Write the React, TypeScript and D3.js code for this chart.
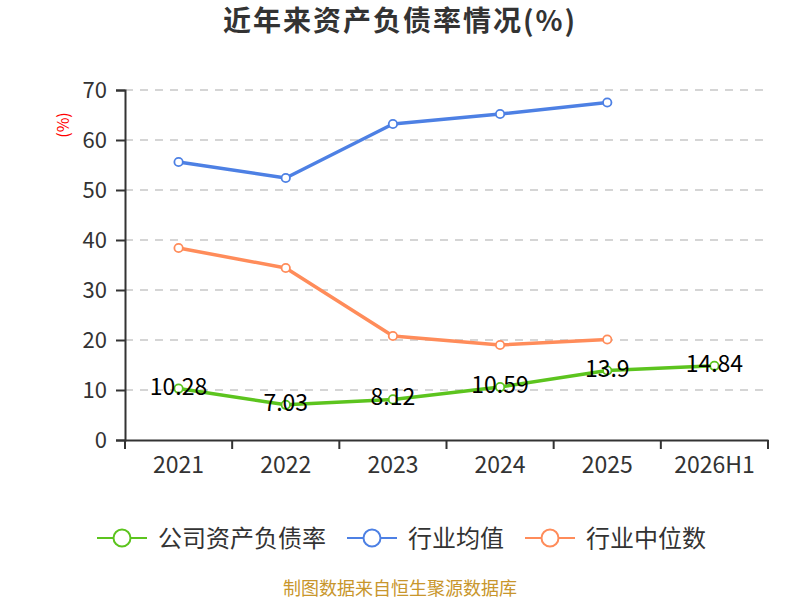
import React, { useRef, useEffect } from 'react';
import * as d3 from 'd3';

const categories = ['2021', '2022', '2023', '2024', '2025', '2026H1'];
const companyRatio = [10.28, 7.03, 8.12, 10.59, 13.9, 14.84];
const industryAvg = [55.6, 52.4, 63.2, 65.2, 67.5];
const industryMedian = [38.4, 34.4, 20.8, 19.0, 20.1];
const yTicks = [0, 10, 20, 30, 40, 50, 60, 70];

const seriesNames = ['公司资产负债率', '行业均值', '行业中位数'];
const colors = ['#5cc41e', '#4d80e4', '#ff8c5a'];

const FONT = '"Noto Sans CJK SC", "Noto Sans", sans-serif';

const App: React.FC = () => {
    const svgRef = useRef<SVGSVGElement | null>(null);

    useEffect(() => {
        if (!svgRef.current) return;

        const width = 800;
        const height = 600;
        const margin = { top: 90, right: 32, bottom: 160, left: 125 };

        const xScale = d3
            .scaleBand()
            .domain(categories)
            .range([margin.left, width - margin.right]);

        const yScale = d3
            .scaleLinear()
            .domain([0, 70])
            .range([height - margin.bottom, margin.top]);

        const svg = d3.select(svgRef.current);
        svg.selectAll('*').remove();

        // Title
        svg.append('text')
            .attr('x', width / 2)
            .attr('y', 31)
            .attr('text-anchor', 'middle')
            .attr('font-family', FONT)
            .attr('font-size', 28)
            .attr('font-weight', 'bold')
            .attr('letter-spacing', 2)
            .attr('fill', '#333')
            .text('近年来资产负债率情况(%)');

        // Grid lines
        svg.append('g')
            .selectAll('line')
            .data(yTicks.filter(d => d > 0))
            .join('line')
            .attr('x1', margin.left)
            .attr('x2', width - margin.right)
            .attr('y1', d => yScale(d))
            .attr('y2', d => yScale(d))
            .attr('stroke', '#c8c8c8')
            .attr('stroke-width', 1.5)
            .attr('stroke-dasharray', '8,7');

        // Y axis
        const yAxis = svg.append('g')
            .attr('transform', `translate(${margin.left},0)`)
            .call(d3.axisLeft(yScale).tickValues(yTicks).tickSize(9).tickPadding(9));
        yAxis.select('.domain').attr('stroke', '#333').attr('stroke-width', 2);
        yAxis.selectAll('.tick line').attr('stroke', '#333').attr('stroke-width', 2);
        yAxis.selectAll('.tick text')
            .attr('font-family', FONT)
            .attr('font-size', 22)
            .attr('fill', '#333');

        // X axis
        const xAxis = svg.append('g')
            .attr('transform', `translate(0,${height - margin.bottom})`)
            .call(d3.axisBottom(xScale).tickSize(0).tickPadding(17));
        xAxis.select('.domain').attr('stroke', '#333').attr('stroke-width', 2);
        xAxis.selectAll('.tick text')
            .attr('font-family', FONT)
            .attr('font-size', 23)
            .attr('fill', '#333');
        // boundary ticks between categories
        const boundaries = categories.map(c => xScale(c) as number).concat([width - margin.right]);
        svg.append('g')
            .selectAll('line')
            .data(boundaries)
            .join('line')
            .attr('x1', d => d)
            .attr('x2', d => d)
            .attr('y1', height - margin.bottom)
            .attr('y2', height - margin.bottom + 9)
            .attr('stroke', '#333')
            .attr('stroke-width', 2);

        // Y unit label
        svg.append('text')
            .attr('transform', `translate(69,125) rotate(-90)`)
            .attr('text-anchor', 'middle')
            .attr('font-family', FONT)
            .attr('font-size', 16)
            .attr('fill', '#ff0000')
            .text('(%)');

        const cx = (i: number) => (xScale(categories[i]) as number) + xScale.bandwidth() / 2;
        const allSeries = [companyRatio, industryAvg, industryMedian];

        // Draw order: median, average, company on top
        [2, 1, 0].forEach(si => {
            const values = allSeries[si];
            const line = d3.line<number>()
                .x((_, i) => cx(i))
                .y(d => yScale(d));
            svg.append('path')
                .datum(values)
                .attr('d', line)
                .attr('fill', 'none')
                .attr('stroke', colors[si])
                .attr('stroke-width', 3.5)
                .attr('stroke-linejoin', 'round');
            svg.append('g')
                .selectAll('circle')
                .data(values)
                .join('circle')
                .attr('cx', (_, i) => cx(i))
                .attr('cy', d => yScale(d))
                .attr('r', 4.2)
                .attr('fill', '#fff')
                .attr('stroke', colors[si])
                .attr('stroke-width', 1.8);
        });

        // Company data labels
        svg.append('g')
            .selectAll('text')
            .data(companyRatio)
            .join('text')
            .attr('x', (_, i) => cx(i))
            .attr('y', d => yScale(d) + 6)
            .attr('text-anchor', 'middle')
            .attr('font-family', FONT)
            .attr('font-size', 23)
            .attr('fill', '#000')
            .text(d => String(d));

        // Legend
        const legendY = 538;
        const legendFont = 24;
        const legend = svg.append('g');
        let lx = 97;
        seriesNames.forEach((name, i) => {
            const g = legend.append('g').attr('transform', `translate(${lx},${legendY})`);
            g.append('line')
                .attr('x1', 0)
                .attr('x2', 50)
                .attr('stroke', colors[i])
                .attr('stroke-width', 2);
            g.append('circle')
                .attr('cx', 25)
                .attr('r', 8.5)
                .attr('fill', '#fff')
                .attr('stroke', colors[i])
                .attr('stroke-width', 2);
            g.append('text')
                .attr('x', 61)
                .attr('y', 9)
                .attr('font-family', FONT)
                .attr('font-size', legendFont)
                .attr('fill', '#333')
                .text(name);
            lx += 50 + 11 + name.length * legendFont + 21;
        });

        // Source
        svg.append('text')
            .attr('x', width / 2)
            .attr('y', 595)
            .attr('text-anchor', 'middle')
            .attr('font-family', FONT)
            .attr('font-size', 18)
            .attr('fill', '#c8962c')
            .text('制图数据来自恒生聚源数据库');
    }, []);

    return (
        <svg
            ref={svgRef}
            width={800}
            height={600}
            style={{ position: 'absolute', left: 0, top: 0, background: '#fff' }}
        />
    );
};

export default App;
